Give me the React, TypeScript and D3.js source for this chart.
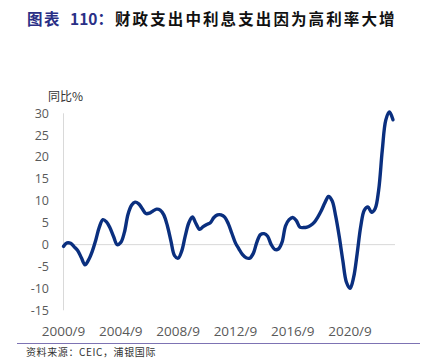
import React from 'react';
import * as d3 from 'd3';

// quarterly yoy %, 2000/9 .. 2023/9
const startYear = 2000.75;
const yoyValues = [
  -0.4, 0.4, 0.3, -0.5, -1.4, -3.0, -4.6, -3.5, -1.6, 1.0,
  4.0, 5.7, 5.2, 3.8, 1.8, 0.0, 0.5, 2.8, 6.9, 9.0,
  9.7, 9.3, 8.2, 7.1, 7.2, 7.7, 8.1, 7.9, 6.8, 4.3,
  0.8, -2.5, -3.1, -1.5, 2.0, 5.0, 6.3, 4.8, 3.5, 4.1,
  4.6, 5.0, 6.2, 6.8, 6.8, 6.3, 4.8, 2.6, 0.4, -1.0,
  -2.3, -3.0, -3.1, -2.0, 0.6, 2.3, 2.5, 1.9, 0.0, -1.1,
  -1.0, 0.5, 4.3, 5.7, 6.2, 5.5, 4.0, 3.9, 4.0, 4.4,
  5.1, 6.3, 7.8, 9.6, 11.0, 10.0, 6.5, 1.8, -3.7, -8.6,
  -10.0, -7.5, -2.0, 4.2, 7.9, 8.6, 7.4, 8.2, 12.5, 21.5,
  28.5, 30.3, 28.5,
];
const xTickYears = [2000, 2004, 2008, 2012, 2016, 2020];
const yTicks = [30, 25, 20, 15, 10, 5, 0, -5, -10, -15];

const width = 427;
const height = 364;
const plot = { left: 63.5, right: 393, top: 113.3, bottom: 310.3 };

export default function App() {
  const x = d3.scaleLinear()
    .domain([startYear, startYear + (yoyValues.length - 1) * 0.25])
    .range([plot.left, plot.right]);
  const y = d3.scaleLinear().domain([-15, 30]).range([plot.bottom, plot.top]);

  const line = d3.line<number>()
    .x((_, i) => x(startYear + i * 0.25))
    .y(d => y(d))
    .curve(d3.curveCatmullRom.alpha(0.5));

  const axisFont = '"Open Sans", "Liberation Sans", sans-serif';
  const cjkFont = '"Noto Sans CJK SC", sans-serif';

  return (
    <div style={{ position: 'absolute', left: 0, top: 0 }}>
      <svg width={width} height={height} style={{ display: 'block', background: '#fff' }}>
        {/* title */}
        <text y={25} fontFamily={cjkFont} fontSize={15.5} fontWeight="bold">
          <tspan x={27} fill="#2a2f86" letterSpacing={1.5}>图表</tspan>
          <tspan x={70} fill="#2a2f86">110：</tspan>
          <tspan x={115} fill="#111" letterSpacing={2.1}>财政支出中利息支出因为高利率大增</tspan>
        </text>

        <text x={48} y={101} fontFamily={cjkFont} fontSize={12} fill="#333">同比%</text>

        {/* axes */}
        <line x1={plot.left} x2={plot.left} y1={plot.top} y2={plot.bottom} stroke="#d9d9d9" />
        <line x1={plot.left} x2={395} y1={y(0)} y2={y(0)} stroke="#d9d9d9" />

        {yTicks.map(t => (
          <text key={t} x={49} y={y(t)} dy="0.35em" textAnchor="end"
            fontFamily={axisFont} fontSize={12.5} fill="#595959">{t}</text>
        ))}
        {xTickYears.map(yr => (
          <text key={yr} x={x(yr + 0.75)} y={336} textAnchor="middle"
            fontFamily={axisFont} fontSize={13.5} fill="#595959">{`${yr}/9`}</text>
        ))}

        <path d={line(yoyValues) || ''} fill="none" stroke="#0a2f7f" strokeWidth={3.4}
          strokeLinejoin="round" strokeLinecap="round" />

        {/* footer */}
        <line x1={17} x2={420} y1={343.5} y2={343.5} stroke="#7d73b3" strokeWidth={1.2} />
        <text x={26} y={356} fontFamily={cjkFont} fontSize={10} letterSpacing={0.6} fill="#333">资料来源：CEIC，浦银国际</text>
      </svg>
    </div>
  );
}
